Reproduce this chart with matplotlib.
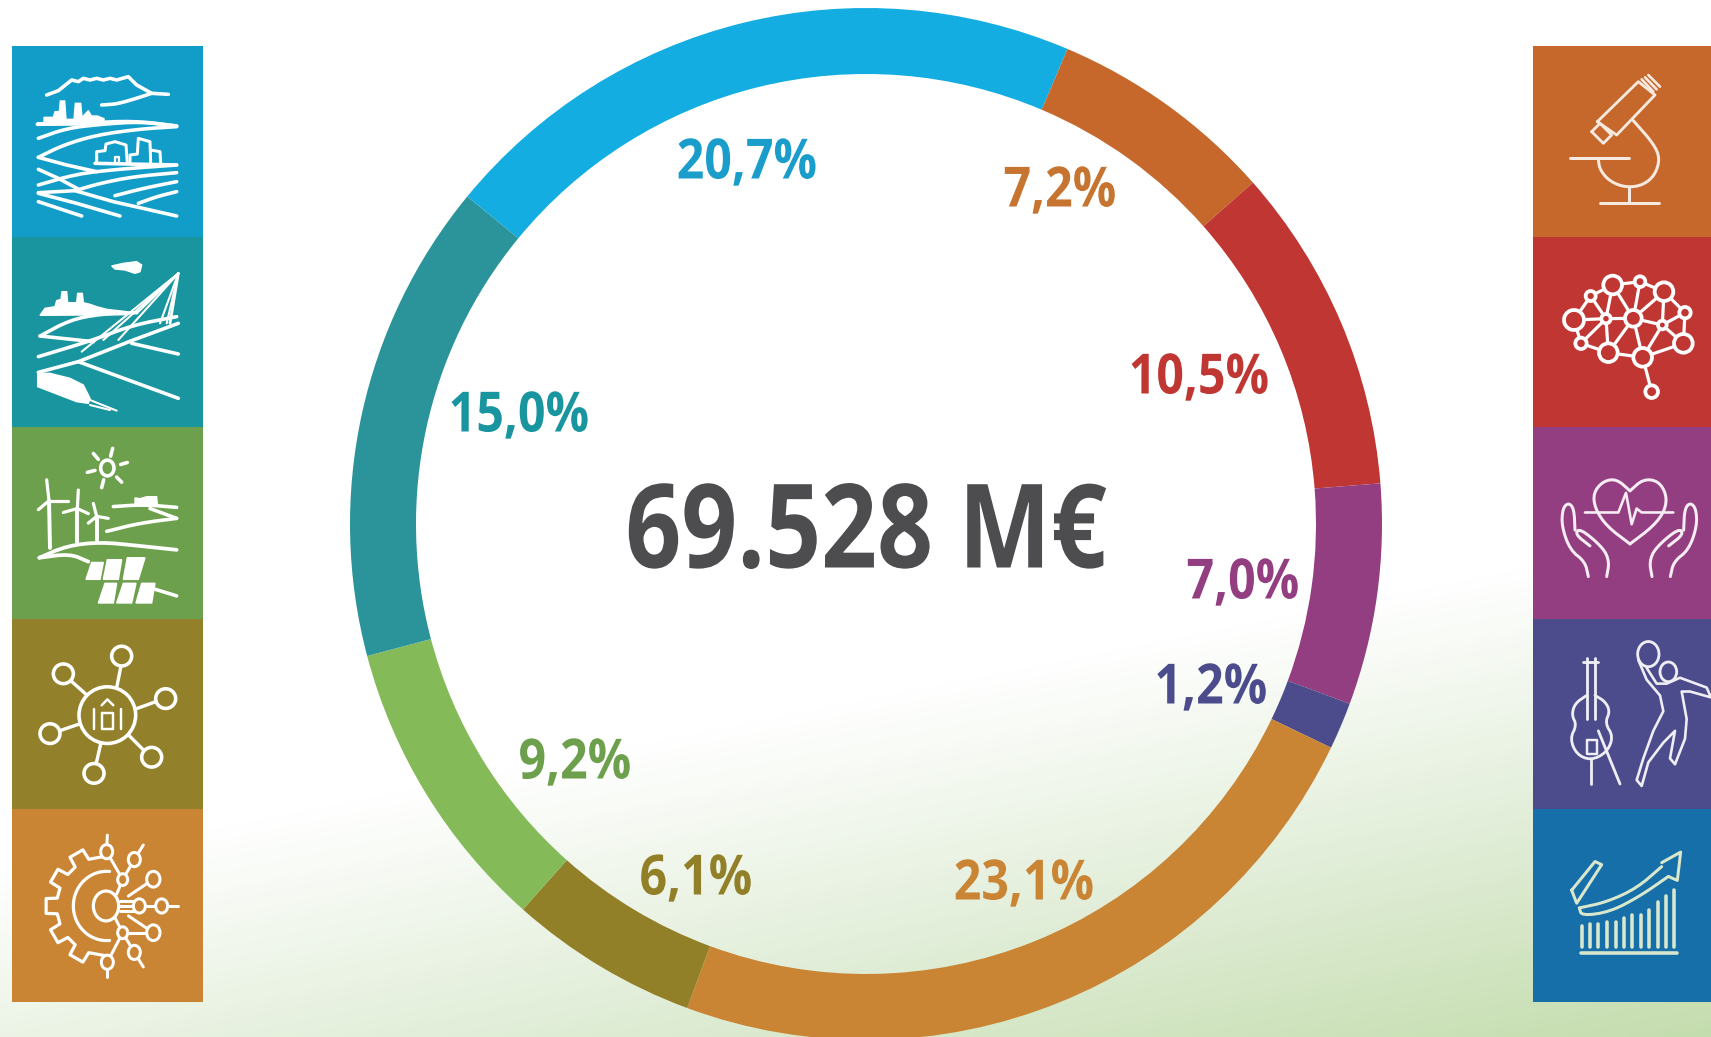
import numpy as np
import matplotlib
matplotlib.use('Agg')
import matplotlib.pyplot as plt
from matplotlib.colors import LinearSegmentedColormap
from matplotlib.patches import Ellipse, Polygon, Rectangle
from matplotlib.patheffects import AbstractPathEffect
from matplotlib.transforms import Affine2D

W, H = 1711, 1037

# labelled share per field, clockwise, starting with the blue arc
shares = [20.7, 7.2, 10.5, 7.0, 1.2, 23.1, 6.1, 9.2, 15.0]
# the printed arcs are not exactly proportional to the labels, these are read off the ring
arc_shares = [20.44, 7.11, 10.25, 6.92, 1.47, 23.50, 5.94, 9.31, 15.06]
total_label = '69.528 M€'

ring_colors = ['#14ade1', '#c6682b', '#bf3632', '#933e80', '#4c4c8c',
               '#c98434', '#928029', '#84bb58', '#2b949b']
text_colors = ['#1b9dcb', '#c6742f', '#bf3632', '#933e80', '#4c4c8c',
               '#c98434', '#928029', '#6da04c', '#18959f']
label_pos = [(747, 164), (1060, 192), (1199, 379), (1243, 584), (1211, 689),
             (1024, 885), (696, 880), (575, 764), (519, 417)]

tile_edges = [46, 237, 427, 619, 809, 1002]
left_tiles = ['#129dc9', '#18959f', '#6da04c', '#92802a', '#c98434']
right_tiles = ['#c6682b', '#bf3632', '#933e80', '#4c4c8c', '#166fa8']

LW = 1.35  # line weight factor for the icons

plt.rcParams['font.family'] = ['Open Sans', 'DejaVu Sans']
fig = plt.figure(figsize=(W / 100, H / 100), dpi=100)
ax = fig.add_axes([0, 0, 1, 1])

# background: white fading to green towards the lower right
yy, xx = np.mgrid[0:H:4, 0:W:4]
grad = np.clip((yy + 0.2 * xx - 870) / 509, 0, 1)
cmap = LinearSegmentedColormap.from_list('bg', ['#ffffff', '#e2eed9', '#c4ddae'])
ax.imshow(grad, cmap=cmap, extent=(0, W, H, 0), aspect='auto', vmin=0, vmax=1,
          interpolation='bilinear')
ax.set_xlim(0, W)
ax.set_ylim(H, 0)
ax.axis('off')


class Squeeze(AbstractPathEffect):
    # narrows a text around its middle, no condensed face is installed
    def __init__(self, sx):
        super().__init__()
        self.sx = sx

    def draw_path(self, renderer, gc, tpath, affine, rgbFace=None):
        v = tpath.vertices[:, 0]
        mid = (v.min() + v.max()) / 2
        sq = Affine2D().translate(-mid, 0).scale(self.sx, 1).translate(mid, 0)
        renderer.draw_path(gc, tpath, sq + affine, rgbFace)


def smooth(pts, n=2):
    pts = np.array(pts, dtype=float)
    for _ in range(n):
        q = 0.75 * pts[:-1] + 0.25 * pts[1:]
        r = 0.25 * pts[:-1] + 0.75 * pts[1:]
        mid = np.empty((q.shape[0] * 2, 2))
        mid[0::2] = q
        mid[1::2] = r
        pts = np.vstack([pts[0], mid, pts[-1]])
    return pts


class Icon:
    def __init__(self, ox, oy, sy=3.0, col='white', bg='none'):
        self.ox, self.oy, self.sy, self.col, self.bg = ox, oy, sy, col, bg

    def xy(self, pts):
        pts = np.array(pts, dtype=float)
        return np.c_[self.ox + pts[:, 0] / 3.0, self.oy + pts[:, 1] / self.sy]

    def line(self, pts, lw=1.9, curve=False, z=5):
        p = smooth(pts) if curve else pts
        p = self.xy(p)
        ax.plot(p[:, 0], p[:, 1], color=self.col, lw=lw * LW, solid_capstyle='round',
                solid_joinstyle='round', zorder=z)

    def fill(self, pts):
        ax.add_patch(Polygon(self.xy(pts), closed=True, fc=self.col, ec=self.col,
                             lw=1.0, zorder=5))

    def ring(self, cx, cy, r, lw=1.9, ry=None):
        c = self.xy([(cx, cy)])[0]
        ry = r if ry is None else ry
        ax.add_patch(Ellipse(c, 2 * r / 3.0, 2 * ry / self.sy, fc=self.bg, ec=self.col,
                             lw=lw * LW, zorder=6))


# coloured tiles
for i in range(5):
    y0, y1 = tile_edges[i], tile_edges[i + 1]
    ax.add_patch(Rectangle((12, y0), 191, y1 - y0, fc=left_tiles[i], ec='none', zorder=2))
    ax.add_patch(Rectangle((1533, y0), W - 1533, y1 - y0, fc=right_tiles[i], ec='none', zorder=2))

# landscape with city
ic = Icon(0, 30)
ic.line([(140, 195), (175, 182), (215, 150), (235, 155), (250, 145), (270, 150), (290, 145),
         (310, 150), (330, 145), (350, 150), (385, 140), (410, 165), (455, 190), (505, 193)])
ic.line([(305, 225), (350, 222), (400, 208), (455, 190)], curve=True)
ic.fill([(112, 285), (112, 278), (132, 278), (132, 262), (160, 262), (165, 245), (178, 245),
         (181, 213), (194, 213), (198, 268), (222, 268), (226, 220), (242, 220), (246, 262),
         (265, 242), (274, 258), (292, 258), (312, 266), (312, 285)])
ic.line([(112, 283), (250, 280), (400, 272), (530, 288)], curve=True)
ic.line([(115, 325), (200, 295), (300, 283), (420, 275), (530, 288)], curve=True)
ic.line([(115, 382), (190, 345), (290, 315), (420, 297), (530, 290)], curve=True)
ic.line([(115, 382), (200, 405), (290, 425)])
ic.line([(285, 400), (530, 405)])
ic.line([(290, 400), (290, 365), (315, 362), (318, 342), (345, 335), (378, 345), (382, 400)], lw=1.6)
ic.line([(390, 400), (390, 375), (412, 372), (415, 325), (450, 335), (452, 400)], lw=1.6)
ic.line([(452, 360), (480, 365), (482, 400)], lw=1.6)
ic.line([(345, 395), (345, 380), (358, 380), (358, 395)], lw=1.2)
ic.line([(115, 465), (230, 432), (350, 418), (530, 405)], curve=True)
ic.line([(115, 418), (175, 445), (240, 480)])
ic.line([(530, 428), (400, 440), (300, 460), (225, 482)], curve=True)
ic.line([(115, 488), (225, 482), (340, 515), (530, 558)])
ic.line([(530, 455), (430, 475), (345, 497)], curve=True)
ic.line([(530, 485), (470, 500), (415, 520)], curve=True)
ic.line([(115, 490), (230, 520), (360, 558)])
ic.line([(115, 515), (245, 558)])

# transport: plane, bridge, train
ic.fill([(335, 708), (370, 700), (410, 695), (425, 705), (420, 725), (405, 730), (375, 720),
         (345, 717)])
ic.fill([(120, 856), (135, 835), (165, 830), (170, 812), (183, 808), (186, 785), (200, 785),
         (203, 818), (230, 818), (233, 790), (247, 790), (250, 818), (270, 823), (290, 830),
         (320, 838), (380, 845), (380, 854)])
ic.line([(120, 918), (210, 870), (300, 852), (410, 848)], curve=True)
ic.line([(120, 918), (280, 935)])
ic.line([(115, 980), (280, 930), (400, 885), (530, 860)], curve=True)
ic.line([(115, 1027), (235, 995), (400, 930), (535, 880)])
ic.line([(235, 995), (535, 1105)])
ic.line([(395, 940), (535, 972)])
ic.fill([(113, 1030), (150, 1030), (210, 1045), (250, 1065), (270, 1105), (265, 1120),
         (230, 1115), (113, 1070)])
ic.line([(270, 1110), (350, 1142)], lw=1.1)
ic.line([(270, 1125), (330, 1140)], lw=1.1)
ic.line([(535, 730), (510, 880)], lw=1.5)
for end in [(310, 930), (245, 965), (355, 930), (410, 850), (480, 880), (500, 880)]:
    ic.line([(535, 730), end], lw=1.1)

# energy: sun, turbines, solar panels
ic = Icon(0, 420, sy=1568 / 617, bg='#6da04c')
ic.ring(322, 122, 20)
for a, b in [((280, 85), (295, 100)), ((338, 72), (332, 92)), ((382, 108), (362, 113)),
             ((365, 158), (350, 145)), ((305, 172), (311, 152)), ((262, 133), (285, 128))]:
    ic.line([a, b], lw=1.9)
for tower, tips in [(((150, 325), (147, 205)), [(140, 152), (205, 205), (115, 228)]),
                    (((232, 310), (232, 225)), [(235, 178), (190, 235), (265, 238)]),
                    (((290, 305), (290, 245)), [(280, 212), (325, 250), (265, 262)])]:
    ic.line(tower, lw=2.1)
    for tip in tips:
        ic.line([tower[1], tip], lw=1.7)
ic.line([(118, 350), (200, 320), (300, 310), (420, 320), (530, 330)], curve=True, lw=2.0)
ic.line([(118, 350), (210, 340), (265, 360)], curve=True, lw=2.0)
ic.line([(340, 220), (430, 215), (530, 222)], curve=True)
ic.line([(320, 283), (420, 262), (530, 250)], curve=True)
ic.line([(450, 225), (530, 250)])
ic.fill([(405, 216), (405, 198), (420, 200), (440, 195), (470, 195), (472, 216)])
for panel in [[(275, 362), (310, 362), (300, 405), (258, 405)],
              [(322, 355), (365, 355), (355, 405), (310, 405)],
              [(382, 350), (435, 350), (415, 405), (370, 405)],
              [(315, 415), (350, 415), (340, 465), (295, 465)],
              [(370, 415), (408, 415), (395, 465), (350, 465)],
              [(425, 415), (465, 415), (455, 465), (408, 465)]]:
    ic.fill(panel)
ic.line([(465, 430), (530, 447)])

# digital network around a building
ic = Icon(0, 420, sy=1568 / 617, bg='#92802a')
for a, b in [((350, 680), (363, 625)), ((262, 700), (213, 663)), ((405, 735), (470, 715)),
             ((240, 772), (178, 790)), ((385, 800), (432, 840)), ((303, 820), (288, 875))]:
    ic.line([a, b], lw=1.8)
ic.ring(322, 750, 85, lw=1.9, ry=72)
for cx, cy in [(365, 600), (190, 645), (497, 708), (150, 797), (455, 857), (282, 898)]:
    ic.ring(cx, cy, 30, lw=1.9, ry=25)
ic.line([(282, 735), (282, 785)], lw=1.3, z=7)
ic.line([(363, 735), (363, 785)], lw=1.3, z=7)
ic.line([(305, 725), (322, 710), (340, 725)], lw=1.3, z=7)
ic.line([(305, 745), (340, 745), (340, 785), (305, 785), (305, 745)], lw=1.3, z=7)

# gear with circuit
ic = Icon(0, 420, sy=1568 / 617, bg='#c98434')
cx, cy = 320, 1235
outline = [(cx, cy - 127)]
for deg in [120, 150, 180, 210, 240]:
    for off, r in [(-9, 150), (-7, 183), (7, 183), (9, 150)]:
        a = np.radians(deg + off)
        outline.append((cx + r * np.cos(a), cy - r * 0.847 * np.sin(a)))
outline.append((cx, cy + 127))
ic.line(outline, lw=1.7)
arc = np.radians(np.arange(85, 276, 5))
ic.line(np.c_[cx + 100 * np.cos(arc), cy - 88 * np.sin(arc)], lw=1.7)
for a, b in [((322, 1055), (320, 1097)), ((322, 1415), (322, 1378)), ((430, 1080), (403, 1117)),
             ((430, 1390), (403, 1353)), ((320, 1097), (368, 1168)), ((322, 1378), (368, 1303)),
             ((403, 1117), (368, 1168)), ((403, 1353), (368, 1303)), ((350, 1205), (368, 1168)),
             ((345, 1265), (368, 1303)), ((385, 1210), (460, 1167)), ((385, 1260), (460, 1303)),
             ((355, 1235), (535, 1235)), ((368, 1303), (460, 1303)), ((360, 1222), (418, 1222)),
             ((360, 1248), (418, 1248))]:
    ic.line([a, b], lw=1.6)
ic.ring(318, 1235, 38, lw=1.7)
for cx, cy, r in [(320, 1097, 18), (403, 1117, 18), (368, 1168, 15), (460, 1167, 20),
                  (418, 1235, 18), (485, 1235, 18), (460, 1303, 20), (368, 1303, 15),
                  (403, 1353, 18), (322, 1378, 18)]:
    ic.ring(cx, cy, r, lw=1.6)

# microscope
ic = Icon(1520, 30, col='#f6e9df')
ic.line([(232, 275), (355, 155), (405, 195), (290, 315), (232, 275)], lw=1.5)
ic.line([(215, 305), (240, 280), (275, 315), (250, 340), (215, 305)], lw=1.5)
for a, b in [((365, 148), (400, 185)), ((375, 142), (410, 178)), ((385, 135), (420, 170))]:
    ic.line([a, b], lw=1.4)
ic.line([(340, 272), (400, 340), (420, 385), (405, 435), (370, 465), (320, 473), (270, 455),
         (240, 420), (235, 390)], curve=True, lw=1.6)
ic.line([(150, 385), (328, 385)], lw=1.6)
ic.line([(240, 520), (418, 520)], lw=1.6)
ic.line([(328, 473), (328, 520)], lw=1.6)

# brain made of nodes
ic = Icon(1520, 30, bg='#bf3632')
nodes = [(162, 870, 30), (212, 798, 15), (278, 765, 28), (360, 755, 16), (432, 785, 28),
         (495, 848, 17), (490, 940, 28), (427, 885, 13), (340, 865, 25), (258, 866, 14),
         (183, 940, 17), (265, 968, 28), (368, 982, 28), (395, 1085, 19)]
links = [(0, 1), (1, 2), (2, 3), (3, 4), (4, 5), (5, 6), (6, 12), (12, 11), (11, 10), (10, 0),
         (0, 9), (1, 9), (2, 9), (2, 8), (3, 8), (4, 8), (4, 7), (5, 7), (6, 7), (7, 8), (7, 12),
         (8, 9), (8, 11), (8, 12), (9, 11), (12, 13), (10, 9)]
for a, b in links:
    ic.line([nodes[a][:2], nodes[b][:2]], lw=1.7)
for cx, cy, r in nodes:
    ic.ring(cx, cy, r, lw=2.0)

# hands and heart
ic = Icon(1520, 420, sy=1568 / 617, col='#f6ecf3')
ic.line([(330, 315), (260, 270), (225, 225), (220, 185), (250, 155), (290, 150), (330, 180)],
        curve=True, lw=1.6)
ic.line([(330, 315), (400, 270), (435, 230), (440, 190), (415, 155), (370, 150), (330, 180)],
        curve=True, lw=1.6)
ic.line([(195, 235), (295, 235), (318, 185), (335, 265), (350, 225), (365, 235), (460, 235)], lw=1.4)
for flip in [False, True]:
    hand = [(205, 398), (195, 360), (150, 330), (125, 270), (128, 225), (145, 210), (162, 225),
            (165, 280)]
    thumb = [(210, 320), (165, 290), (180, 275), (250, 325), (268, 360), (260, 398)]
    if flip:
        hand = [(656 - x, y) for x, y in hand]
        thumb = [(656 - x, y) for x, y in thumb]
    ic.line(hand, curve=True, lw=1.6)
    ic.line(thumb, curve=True, lw=1.6)

# violin and player
ic = Icon(1520, 420, sy=1568 / 617, col='#eeeef4')
ic.line([(200, 605), (200, 760)], lw=1.5)
ic.line([(225, 605), (225, 760)], lw=1.5)
ic.line([(190, 615), (235, 615)], lw=1.5)
ic.line([(200, 700), (165, 720), (155, 750), (170, 775), (150, 810), (170, 850), (213, 865),
         (260, 845), (280, 805), (255, 770), (270, 740), (255, 715), (225, 700)], curve=True, lw=1.5)
ic.line([(213, 865), (213, 925)], lw=1.5)
ic.line([(235, 790), (300, 925)], lw=1.5)
ic.line([(200, 812), (230, 812), (230, 850), (200, 850), (200, 812)], lw=1.3)
ic.line([(355, 610), (380, 660), (420, 700), (430, 740), (400, 790), (370, 860), (350, 915),
         (365, 930), (385, 870), (430, 820), (465, 790), (450, 860), (465, 875), (495, 810),
         (500, 760), (485, 690), (510, 690), (573, 705), (560, 680), (480, 655), (440, 670),
         (410, 670), (380, 630)], lw=1.4)
ic.bg = '#4c4c8c'
ic.ring(385, 595, 32, lw=1.5)
ic.ring(445, 640, 25, lw=1.5)

# rising arrow over bars
ic = Icon(1520, 420, sy=1568 / 617, col='#d9e8cc')
bar_x = [187, 210, 235, 262, 287, 312, 337, 362, 388, 413, 438, 462]
bar_top = [1285, 1282, 1280, 1275, 1275, 1265, 1258, 1258, 1245, 1225, 1210, 1195]
for x, top in zip(bar_x, bar_top):
    ic.line([(x, 1340), (x, top)], lw=1.9)
ic.line([(183, 1355), (472, 1355)], lw=1.9)
ic.line([(178, 1240), (260, 1225), (350, 1190), (425, 1135)], curve=True, lw=1.6)
ic.line([(178, 1240), (185, 1260), (270, 1250), (360, 1210), (445, 1160)], curve=True, lw=1.6)
ic.line([(425, 1125), (482, 1098), (472, 1170), (445, 1160)], lw=1.6)
ic.line([(155, 1195), (225, 1122), (245, 1130), (170, 1228), (155, 1195)], lw=1.6)

# ring
ax_pie = fig.add_axes([0, 0, 1, 1], facecolor='none')
ax_pie.pie(arc_shares, colors=ring_colors, startangle=140.6, counterclock=False,
           center=(866, H - 524), radius=516, wedgeprops={'width': 66, 'linewidth': 0})
ax_pie.set_aspect('auto')
ax_pie.set_xlim(0, W)
ax_pie.set_ylim(0, H)
ax_pie.axis('off')

for val, col, (x, y) in zip(shares, text_colors, label_pos):
    ax.text(x, y, f'{val:.1f}%'.replace('.', ','), color=col, fontsize=40, fontweight='bold',
            ha='center', va='center', zorder=7, path_effects=[Squeeze(0.87)])
ax.text(866, 537, total_label, color='#4d4d4f', fontsize=84, fontweight='bold',
        ha='center', va='center', zorder=7, path_effects=[Squeeze(0.84)])

fig.savefig('out.png', dpi=100)
